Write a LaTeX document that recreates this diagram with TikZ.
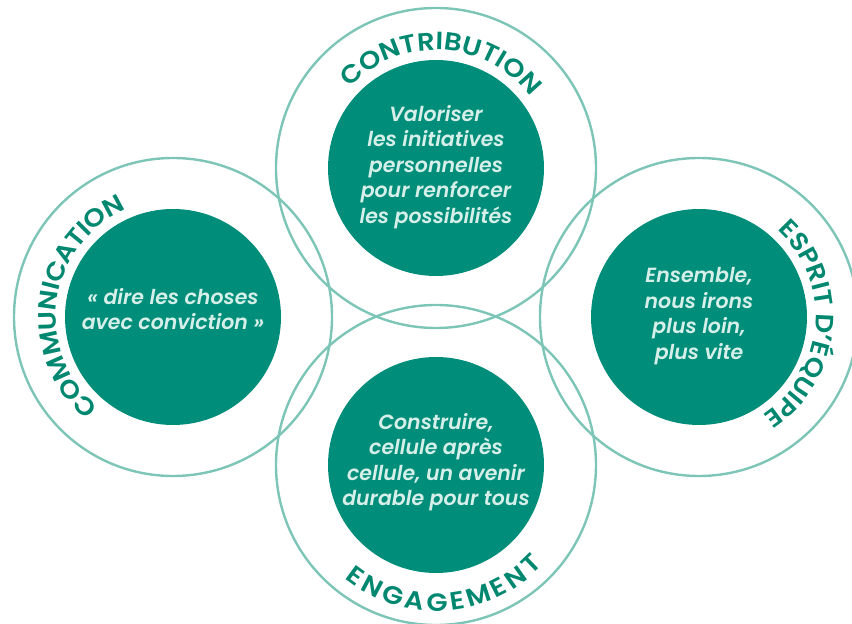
\documentclass[tikz,border=0pt]{standalone}
\usepackage{fontspec}
\newfontfamily\ringfont{Poppins SemiBold}[FakeStretch=1.1]
\newfontfamily\innerfont{Poppins SemiBold Italic}
\definecolor{ringline}{RGB}{125,197,183}
\definecolor{discfill}{RGB}{0,142,122}
\definecolor{ringtext}{RGB}{0,135,112}
\definecolor{disctext}{RGB}{214,239,233}
\newcommand\ringstyle{\ringfont\fontsize{25}{25}\selectfont}
\tikzset{
  ring/.style={draw=ringline, line width=2.4pt},
  disc/.style={circle, fill=discfill, minimum size=216pt, inner sep=0pt},
  motto/.style={align=center, text=disctext, font=\innerfont\fontsize{20.5}{25.5}\selectfont},
  ringchar/.style={inner sep=0pt, anchor=base, text=ringtext, font=\ringstyle}
}
% Letters set one by one round a circle.
% #1 centre, #2 baseline radius (pt), #3 middle angle, #4 sense (1 = anticlockwise,
% letters facing the centre; -1 = clockwise, letters facing outward),
% #5 extra tracking per letter (pt), #6 comma separated letters
\newdimen\arctot
\newdimen\arccum
\newdimen\arcpos
\newsavebox\letterbox
% width of one letter, measured outside the picture's null font
\newcommand\measureletter[1]{%
  \pgfinterruptpicture\global\sbox\letterbox{\ringstyle #1}\endpgfinterruptpicture}
\newcommand\ringletters[6]{%
  \global\arctot=0pt
  \foreach \ch in {#6}{%
    \measureletter{\ch}%
    \global\advance\arctot by \wd\letterbox
    \global\advance\arctot by #5pt
  }%
  \global\arccum=0pt
  \pgfmathsetmacro\degperpt{57.29578/#2}%
  \foreach \ch [count=\k] in {#6}{%
    \measureletter{\ch}%
    \arcpos=-0.5\arctot
    \advance\arcpos by \arccum
    \advance\arcpos by 0.5\wd\letterbox
    \advance\arcpos by 0.5\dimexpr #5pt\relax
    \arcpos=\degperpt\arcpos
    \arcpos=#4\arcpos
    \advance\arcpos by #3pt
    \global\advance\arccum by \wd\letterbox
    \global\advance\arccum by #5pt
    \pgfmathsetmacro\letterang{\the\arcpos}%
    \pgfmathsetmacro\letterrot{\letterang + #4*90}%
    \node[ringchar, rotate=\letterrot] (#1-\k) at ([shift={(\letterang:#2pt)}]#1) {\ch};
  }%
}
\begin{document}
\begin{tikzpicture}[x=1pt,y=1pt]
\useasboundingbox (0,0) rectangle (852,624);
% centres of the four circles
\coordinate (ct) at (436,456);
\coordinate (cb) at (436,159);
\coordinate (cl) at (173,307);
\coordinate (cr) at (699,307);
% outer rings
\draw[ring] (ct) circle[radius=160pt];
\draw[ring] (cb) circle[radius=160pt];
\draw[ring] (cl) circle[radius=159pt];
\draw[ring] (cr) circle[radius=159pt];
% filled discs
\node[disc] (dt) at (ct) {};
\node[disc] (db) at (cb) {};
\node[disc] (dl) at (cl) {};
\node[disc] (dr) at (cr) {};
% mottos
\node[motto] (mt) at ([yshift=1pt]ct) {Valoriser\\les initiatives\\personnelles\\pour renforcer\\les possibilités};
\node[motto] (ml) at ([yshift=8pt]cl) {« dire les choses\\avec conviction »};
\node[motto] (mr) at ([yshift=1pt]cr) {Ensemble,\\nous irons\\plus loin,\\plus vite};
\node[motto] (mb) at ([yshift=3pt]cb) {Construire,\\cellule après\\cellule, un avenir\\durable pour tous};
% curved ring labels
\ringletters{ct}{118}{87}{-1}{0}{C,O,N,T,R,I,B,U,T,I,O,N}
\ringletters{cl}{117}{172}{-1}{-0.5}{C,O,M,M,U,N,I,C,A,T,I,O,N}
\ringletters{cr}{117}{-4.5}{-1}{-0.2}{E,S,P,R,I,T,~,D,’,É,Q,U,I,P,E}
\ringletters{cb}{146}{274}{1}{3.5}{E,N,G,A,G,E,M,E,N,T}
\end{tikzpicture}
\end{document}
